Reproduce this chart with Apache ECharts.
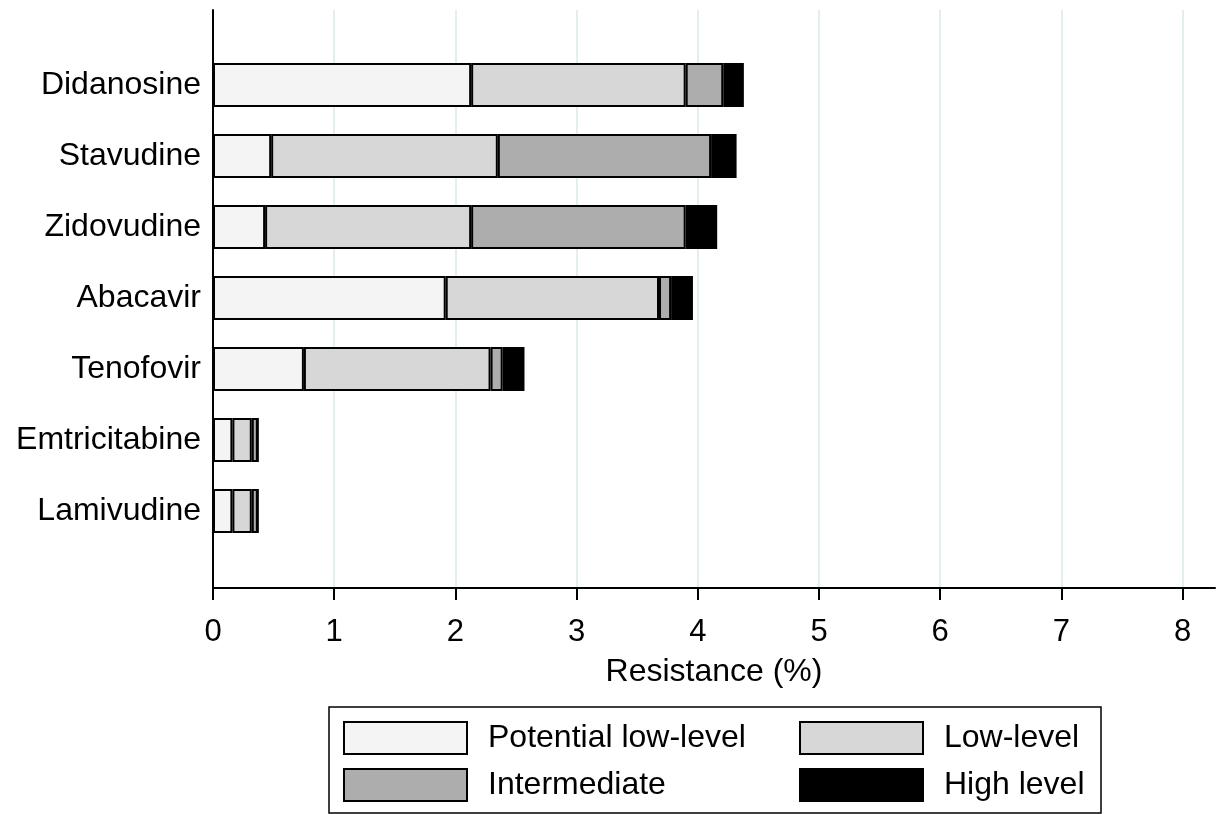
<!DOCTYPE html>
<html>
<head>
<meta charset="utf-8">
<script src="https://cdn.jsdelivr.net/npm/echarts@6/dist/echarts.min.js"></script>
<style>
html,body{margin:0;padding:0;background:#fff;}
#chart{width:1225px;height:814px;}
</style>
</head>
<body>
<div id="chart"></div>
<script>
const categories = ['Didanosine','Stavudine','Zidovudine','Abacavir','Tenofovir','Emtricitabine','Lamivudine'];
const potentialLow = [2.13, 0.48, 0.43, 1.92, 0.75, 0.16, 0.16];
const lowLevel     = [1.77, 1.87, 1.70, 1.76, 1.54, 0.16, 0.16];
const intermediate = [0.31, 1.76, 1.77, 0.10, 0.10, 0.05, 0.05];
const highLevel    = [0.17, 0.21, 0.26, 0.18, 0.18, 0, 0];
const seriesNames = ['Potential low-level','Low-level','Intermediate','High level'];
const seriesColors = ['#f4f4f4','#d7d7d7','#adadad','#000000'];
const xMin = 0, xMax = 8, xInterval = 1;
const axisTitle = 'Resistance (%)';

const FONT = '"Liberation Sans", Arial, Helvetica, sans-serif';
const chart = echarts.init(document.getElementById('chart'), null, {renderer:'canvas'});
const unitPx = 121.2;
const plotW = unitPx * (xMax - xMin);
const values = [potentialLow, lowLevel, intermediate, highLevel];

const option = {
  backgroundColor: '#fff',
  animation: false,
  textStyle: {fontFamily: FONT},
  grid: [
    {left: 213, right: 10, top: 10, bottom: 226},
    {left: 213, width: plotW, top: 10, bottom: 226},
    {left: 213, width: plotW, top: 49.5, bottom: 267.5}
  ],
  xAxis: [
    {gridIndex: 0, type: 'value', min: 0, max: 1,
     axisLine: {show: true, lineStyle: {color: '#000', width: 2}},
     axisTick: {show: false}, axisLabel: {show: false}, splitLine: {show: false},
     name: axisTitle, nameLocation: 'middle', nameGap: 68,
     nameTextStyle: {fontSize: 32, color: '#000', fontFamily: FONT}},
    {gridIndex: 1, type: 'value', min: xMin, max: xMax, interval: xInterval,
     axisLine: {show: false},
     axisTick: {show: true, length: 12, lineStyle: {color: '#000', width: 2}},
     axisLabel: {show: true, fontSize: 31, color: '#000', margin: 29, fontFamily: FONT},
     splitLine: {show: true, lineStyle: {color: '#e3eef0', width: 2}}},
    {gridIndex: 2, type: 'value', min: xMin, max: xMax, show: false}
  ],
  yAxis: [
    {gridIndex: 0, type: 'value',
     axisLine: {show: true, lineStyle: {color: '#000', width: 2}},
     axisTick: {show: false}, axisLabel: {show: false}, splitLine: {show: false}},
    {gridIndex: 1, type: 'value', show: false},
    {gridIndex: 2, type: 'category', data: categories, inverse: true,
     axisLine: {show: false}, axisTick: {show: false},
     axisLabel: {fontSize: 32, color: '#000', margin: 12, fontFamily: FONT}}
  ],
  legend: {
    data: seriesNames,
    icon: 'rect',
    left: 329, top: 707,
    width: 790,
    padding: [14, 12, 11, 14],
    borderColor: '#000', borderWidth: 1.5, backgroundColor: '#fff',
    itemWidth: 123, itemHeight: 32, itemGap: 13,
    itemStyle: {borderColor: '#000', borderWidth: 2},
    selectedMode: false,
    formatter: function(name){
      const idx = seriesNames.indexOf(name);
      return (idx % 2 === 0 ? '{c1|' : '{c2|') + name + '}';
    },
    textStyle: {
      fontSize: 32, color: '#000', fontFamily: FONT, padding: [0,0,0,16],
      rich: {
        c1: {width: 298, fontSize: 32, lineHeight: 32, color: '#000', fontFamily: FONT},
        c2: {width: 145, fontSize: 32, lineHeight: 32, color: '#000', fontFamily: FONT}
      }
    }
  },
  series: seriesNames.map((n, i) => ({
    name: n, type: 'bar', stack: 'total',
    xAxisIndex: 2, yAxisIndex: 2,
    barWidth: 44,
    data: values[i],
    itemStyle: {color: seriesColors[i], borderColor: '#000', borderWidth: 2}
  }))
};
chart.setOption(option);
</script>
</body>
</html>
